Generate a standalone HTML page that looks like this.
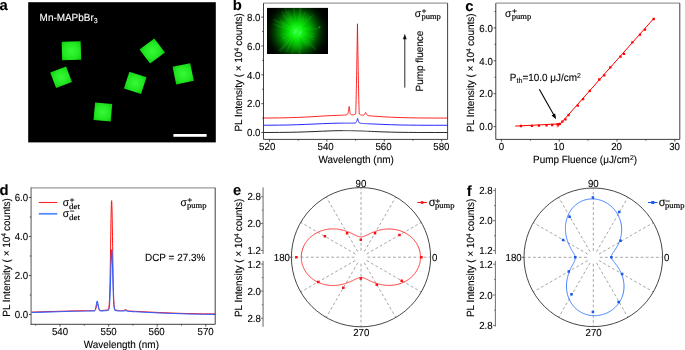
<!DOCTYPE html>
<html lang="en"><head><meta charset="utf-8"><title>Mn-MAPbBr3 lasing figure</title>
<style>html,body{margin:0;padding:0;background:#fff;}svg{display:block;will-change:transform;}text{font-family:"Liberation Sans", Arial, sans-serif;fill:#000;stroke:#000;stroke-width:0.1px;text-rendering:geometricPrecision;}text.sf{font-family:"Liberation Serif", "Times New Roman", serif;font-weight:normal;font-size:8px;stroke:#111;stroke-width:0.2px;}</style></head><body>
<svg width="685" height="350" viewBox="0 0 685 350">
<defs><filter id="bl" x="-20%" y="-20%" width="140%" height="140%"><feGaussianBlur stdDeviation="0.7"/></filter><filter id="bl2" x="-20%" y="-20%" width="140%" height="140%"><feGaussianBlur stdDeviation="0.5"/></filter><radialGradient id="sq" cx="50%" cy="50%" r="70%"><stop offset="0" stop-color="#38f838"/><stop offset="0.6" stop-color="#22e822"/><stop offset="1" stop-color="#10c810"/></radialGradient><radialGradient id="glow" gradientUnits="userSpaceOnUse" cx="296.8" cy="31.6" r="34"><stop offset="0" stop-color="#34ff34"/><stop offset="0.15" stop-color="#16f616"/><stop offset="0.28" stop-color="#00d200"/><stop offset="0.42" stop-color="#00a200"/><stop offset="0.55" stop-color="#006c00"/><stop offset="0.68" stop-color="#003800"/><stop offset="0.8" stop-color="#001400"/><stop offset="0.92" stop-color="#000400"/><stop offset="1" stop-color="#000000"/></radialGradient><clipPath id="cin"><rect x="267" y="7.8" width="61" height="46.2"/></clipPath><clipPath id="cb"><rect x="263.5" y="3.2" width="184" height="136.2"/></clipPath><clipPath id="cd"><rect x="31" y="187.6" width="184.2" height="136.8"/></clipPath></defs>
<rect x="0" y="0" width="685" height="350" fill="#ffffff"/>
<text x="-0.6" y="10.4" font-size="14.8" font-weight="bold" fill="#000">a</text>
<text x="232.8" y="10.3" font-size="14.8" font-weight="bold" fill="#000">b</text>
<text x="465.2" y="10.7" font-size="14.8" font-weight="bold" fill="#000">c</text>
<text x="-0.5" y="195" font-size="14.8" font-weight="bold" fill="#000">d</text>
<text x="233" y="195" font-size="14.8" font-weight="bold" fill="#000">e</text>
<text x="466.8" y="195.7" font-size="14.8" font-weight="bold" fill="#000">f</text>
<g id="panel-a">
<rect x="28.2" y="2.2" width="187.6" height="140.2" fill="#000"/>
<g filter="url(#bl)">
<rect x="61.9" y="41.5" width="19" height="18.6" fill="url(#sq)" transform="rotate(-1.5 71.4 50.8)"/>
<rect x="52.6" y="68.9" width="17" height="16.6" fill="url(#sq)" transform="rotate(-20.8 61.1 77.2)"/>
<rect x="142.9" y="42.2" width="18.6" height="17.6" fill="url(#sq)" transform="rotate(-37 152.2 51)"/>
<rect x="126.2" y="74" width="18" height="17.6" fill="url(#sq)" transform="rotate(18 135.2 82.8)"/>
<rect x="174.2" y="64.8" width="18" height="18" fill="url(#sq)" transform="rotate(-11.6 183.2 73.8)"/>
<rect x="94.3" y="103.3" width="17.2" height="17.6" fill="url(#sq)" transform="rotate(5 102.9 112.1)"/>
</g>
<rect x="173.4" y="134" width="33.2" height="2.8" fill="#fff"/>
<text transform="translate(39.6 20.9) scale(1 1.05)" font-size="9.95" style="fill:#fff;stroke:#fff">Mn-MAPbBr<tspan font-size="7" dy="1.9">3</tspan></text>
</g>
<g id="panel-b">
<g clip-path="url(#cb)" fill="none" stroke-width="0.85" stroke-linejoin="miter" stroke-miterlimit="3">
<path d="M262.32 132.49 L270.94 132.47 L279.55 132.42 L288.15 132.32 L296.76 132.15 L305.38 131.89 L313.99 131.55 L322.6 131.18 L331.2 130.85 L339.81 130.65 L341.97 130.63 L342.11 130.63 L342.83 130.63 L342.97 130.63 L343.69 130.63 L343.83 130.63 L344.55 130.63 L344.69 130.63 L345.41 130.63 L345.56 130.63 L346.27 130.63 L346.42 130.63 L346.44 130.63 L346.59 130.63 L346.62 130.63 L346.76 130.64 L346.79 130.64 L346.93 130.64 L346.96 130.64 L347.1 130.64 L347.13 130.64 L347.28 130.64 L347.31 130.64 L347.45 130.64 L347.48 130.64 L347.62 130.64 L347.65 130.64 L347.79 130.64 L347.82 130.64 L347.97 130.65 L347.99 130.65 L348.14 130.65 L348.17 130.65 L348.31 130.65 L348.34 130.65 L348.43 130.65 L348.48 130.65 L348.51 130.65 L348.65 130.65 L348.68 130.65 L348.83 130.66 L348.86 130.66 L349 130.66 L349.03 130.66 L349.17 130.66 L349.2 130.66 L349.34 130.66 L349.37 130.66 L349.52 130.67 L349.54 130.67 L349.69 130.67 L349.72 130.67 L349.86 130.67 L349.89 130.67 L350.03 130.67 L350.06 130.67 L350.2 130.68 L350.23 130.68 L350.38 130.68 L350.41 130.68 L350.49 130.68 L350.55 130.68 L350.58 130.68 L350.72 130.69 L350.75 130.69 L350.89 130.69 L350.92 130.69 L351.07 130.69 L351.09 130.69 L351.24 130.7 L351.27 130.7 L351.35 130.7 L351.41 130.7 L351.44 130.7 L351.58 130.7 L352.21 130.72 L352.27 130.72 L352.3 130.72 L352.44 130.72 L353.07 130.73 L353.13 130.74 L353.16 130.74 L353.3 130.74 L353.94 130.76 L353.99 130.76 L354.02 130.76 L354.17 130.76 L354.8 130.78 L354.85 130.78 L354.88 130.78 L354.97 130.78 L355.03 130.79 L355.05 130.79 L355.14 130.79 L355.2 130.79 L355.23 130.79 L355.31 130.79 L355.37 130.8 L355.4 130.8 L355.49 130.8 L355.54 130.8 L355.57 130.8 L355.66 130.8 L355.71 130.81 L355.74 130.81 L355.83 130.81 L355.89 130.81 L355.92 130.81 L356 130.81 L356.06 130.82 L356.09 130.82 L356.17 130.82 L356.23 130.82 L356.26 130.82 L356.35 130.82 L356.4 130.83 L356.43 130.83 L356.52 130.83 L356.58 130.83 L356.6 130.83 L356.69 130.83 L356.75 130.84 L356.78 130.84 L356.86 130.84 L356.92 130.84 L356.95 130.84 L357.03 130.85 L357.09 130.85 L357.12 130.85 L357.21 130.85 L357.26 130.85 L357.29 130.85 L357.38 130.86 L357.44 130.86 L357.47 130.86 L357.55 130.86 L357.61 130.86 L357.64 130.87 L357.72 130.87 L357.78 130.87 L357.81 130.87 L357.9 130.87 L357.95 130.88 L357.98 130.88 L358.07 130.88 L358.13 130.88 L358.15 130.88 L358.24 130.89 L358.3 130.89 L358.33 130.89 L358.41 130.89 L358.47 130.89 L358.5 130.89 L358.58 130.9 L358.64 130.9 L358.67 130.9 L358.76 130.9 L358.81 130.91 L358.84 130.91 L358.93 130.91 L358.99 130.91 L359.02 130.91 L359.1 130.92 L359.16 130.92 L359.19 130.92 L359.27 130.92 L359.33 130.92 L359.36 130.92 L359.45 130.93 L359.5 130.93 L359.53 130.93 L359.62 130.93 L359.68 130.94 L359.7 130.94 L359.79 130.94 L359.85 130.94 L359.88 130.94 L359.96 130.95 L360.02 130.95 L360.05 130.95 L360.19 130.96 L360.48 130.97 L360.82 130.98 L360.88 130.98 L360.91 130.98 L361.05 130.99 L361.34 131 L361.68 131.01 L361.74 131.01 L361.77 131.02 L361.91 131.02 L362.2 131.03 L362.55 131.05 L362.6 131.05 L362.63 131.05 L362.77 131.06 L363.06 131.07 L363.23 131.07 L363.41 131.08 L363.46 131.08 L363.49 131.08 L363.58 131.09 L363.64 131.09 L363.75 131.1 L363.92 131.1 L364.1 131.11 L364.27 131.12 L364.44 131.12 L364.61 131.13 L364.78 131.14 L364.96 131.15 L365.13 131.15 L365.3 131.16 L365.47 131.17 L365.64 131.18 L365.82 131.18 L365.99 131.19 L366.16 131.2 L366.33 131.2 L366.51 131.21 L366.68 131.22 L366.85 131.23 L367.02 131.23 L367.19 131.24 L367.37 131.25 L367.54 131.26 L367.71 131.26 L367.88 131.27 L368.06 131.28 L368.23 131.29 L369.09 131.33 L369.95 131.36 L370.81 131.4 L371.67 131.44 L374.25 131.55 L382.87 131.89 L391.48 132.15 L400.09 132.32 L408.69 132.42 L417.31 132.47 L425.91 132.49 L434.52 132.5 L443.13 132.5 L448.88 132.5" stroke="#000" stroke-width="0.85"/>
<path d="M262.32 125.25 L270.94 125.21 L279.55 125.12 L288.15 124.97 L296.76 124.74 L305.38 124.42 L313.99 124.04 L322.6 123.66 L331.2 123.33 L339.81 123.15 L341.97 123.13 L342.11 123.13 L342.83 123.13 L342.97 123.13 L343.69 123.12 L343.83 123.12 L344.55 123.12 L344.69 123.12 L345.41 123.12 L345.56 123.12 L346.27 123.13 L346.42 123.13 L346.44 123.13 L346.59 123.13 L346.62 123.13 L346.76 123.13 L346.79 123.13 L346.93 123.13 L346.96 123.13 L347.1 123.13 L347.13 123.13 L347.28 123.13 L347.31 123.13 L347.45 123.13 L347.48 123.13 L347.62 123.13 L347.65 123.13 L347.79 123.13 L347.82 123.13 L347.97 123.14 L347.99 123.14 L348.14 123.14 L348.17 123.14 L348.31 123.14 L348.34 123.14 L348.43 123.14 L348.48 123.14 L348.51 123.14 L348.65 123.14 L348.68 123.14 L348.83 123.14 L348.86 123.14 L349 123.14 L349.03 123.14 L349.17 123.15 L349.2 123.15 L349.34 123.15 L349.37 123.15 L349.52 123.15 L349.54 123.15 L349.69 123.15 L349.72 123.15 L349.86 123.15 L349.89 123.15 L350.03 123.15 L350.06 123.15 L350.2 123.15 L350.23 123.15 L350.38 123.16 L350.41 123.16 L350.49 123.16 L350.55 123.16 L350.58 123.16 L350.72 123.16 L350.75 123.16 L350.89 123.16 L350.92 123.16 L351.07 123.16 L351.09 123.16 L351.24 123.16 L351.27 123.16 L351.35 123.16 L351.41 123.16 L351.44 123.16 L351.58 123.16 L352.21 123.17 L352.27 123.17 L352.3 123.17 L352.44 123.16 L353.07 123.16 L353.13 123.16 L353.16 123.16 L353.3 123.15 L353.94 123.13 L353.99 123.13 L354.02 123.13 L354.17 123.12 L354.8 123.04 L354.85 123.03 L354.88 123.03 L354.97 123.01 L355.03 123 L355.05 122.99 L355.14 122.97 L355.2 122.96 L355.23 122.95 L355.31 122.92 L355.37 122.9 L355.4 122.89 L355.49 122.86 L355.54 122.83 L355.57 122.82 L355.66 122.78 L355.71 122.75 L355.74 122.73 L355.83 122.67 L355.89 122.63 L355.92 122.61 L356 122.54 L356.06 122.48 L356.09 122.45 L356.17 122.36 L356.23 122.28 L356.26 122.24 L356.35 122.12 L356.4 122.02 L356.43 121.97 L356.52 121.8 L356.58 121.68 L356.6 121.61 L356.69 121.39 L356.75 121.23 L356.78 121.14 L356.86 120.87 L356.92 120.67 L356.95 120.56 L357.03 120.24 L357.09 120.01 L357.12 119.89 L357.21 119.55 L357.26 119.33 L357.29 119.23 L357.38 118.95 L357.44 118.8 L357.47 118.74 L357.55 118.62 L357.61 118.59 L357.64 118.6 L357.72 118.69 L357.78 118.81 L357.81 118.88 L357.9 119.15 L357.95 119.35 L357.98 119.46 L358.07 119.81 L358.13 120.04 L358.15 120.16 L358.24 120.5 L358.3 120.71 L358.33 120.81 L358.41 121.11 L358.47 121.29 L358.5 121.37 L358.58 121.6 L358.64 121.74 L358.67 121.81 L358.76 121.99 L358.81 122.1 L358.84 122.15 L358.93 122.29 L358.99 122.37 L359.02 122.41 L359.1 122.52 L359.16 122.58 L359.19 122.61 L359.27 122.69 L359.33 122.74 L359.36 122.76 L359.45 122.83 L359.5 122.87 L359.53 122.88 L359.62 122.93 L359.68 122.97 L359.7 122.98 L359.79 123.02 L359.85 123.05 L359.88 123.06 L359.96 123.09 L360.02 123.11 L360.05 123.12 L360.19 123.16 L360.48 123.23 L360.82 123.3 L360.88 123.31 L360.91 123.31 L361.05 123.33 L361.34 123.37 L361.68 123.4 L361.74 123.41 L361.77 123.41 L361.91 123.42 L362.2 123.45 L362.55 123.47 L362.6 123.48 L362.63 123.48 L362.77 123.49 L363.06 123.51 L363.23 123.52 L363.41 123.53 L363.46 123.53 L363.49 123.53 L363.58 123.54 L363.64 123.54 L363.75 123.55 L363.92 123.55 L364.1 123.56 L364.27 123.57 L364.44 123.58 L364.61 123.59 L364.78 123.6 L364.96 123.61 L365.13 123.62 L365.3 123.62 L365.47 123.63 L365.64 123.64 L365.82 123.65 L365.99 123.66 L366.16 123.67 L366.33 123.67 L366.51 123.68 L366.68 123.69 L366.85 123.7 L367.02 123.71 L367.19 123.71 L367.37 123.72 L367.54 123.73 L367.71 123.74 L367.88 123.75 L368.06 123.75 L368.23 123.76 L369.09 123.8 L369.95 123.84 L370.81 123.88 L371.67 123.92 L374.25 124.04 L382.87 124.42 L391.48 124.74 L400.09 124.97 L408.69 125.12 L417.31 125.21 L425.91 125.25 L434.52 125.27 L443.13 125.28 L448.88 125.29" stroke="#0000ff"/>
<path d="M262.32 118.04 L270.94 117.99 L279.55 117.9 L288.15 117.73 L296.76 117.45 L305.38 117.07 L313.99 116.59 L322.6 116.06 L331.2 115.59 L339.81 115.25 L341.97 115.19 L342.11 115.18 L342.83 115.16 L342.97 115.16 L343.69 115.13 L343.83 115.13 L344.55 115.09 L344.69 115.09 L345.41 115.04 L345.56 115.02 L346.27 114.92 L346.42 114.89 L346.44 114.88 L346.59 114.84 L346.62 114.84 L346.76 114.79 L346.79 114.78 L346.93 114.72 L346.96 114.71 L347.1 114.63 L347.13 114.62 L347.28 114.52 L347.31 114.5 L347.45 114.37 L347.48 114.34 L347.62 114.18 L347.65 114.14 L347.79 113.91 L347.82 113.85 L347.97 113.53 L347.99 113.45 L348.14 113 L348.17 112.9 L348.31 112.25 L348.34 112.1 L348.43 111.6 L348.48 111.21 L348.51 111 L348.65 109.83 L348.68 109.57 L348.83 108.23 L348.86 107.97 L349 106.88 L349.03 106.73 L349.17 106.46 L349.2 106.52 L349.34 107.25 L349.37 107.47 L349.52 108.75 L349.54 109.02 L349.69 110.3 L349.72 110.54 L349.86 111.57 L349.89 111.75 L350.03 112.5 L350.06 112.63 L350.2 113.16 L350.23 113.25 L350.38 113.62 L350.41 113.69 L350.49 113.86 L350.55 113.95 L350.58 114 L350.72 114.19 L350.75 114.22 L350.89 114.36 L350.92 114.38 L351.07 114.49 L351.09 114.5 L351.24 114.58 L351.27 114.59 L351.35 114.63 L351.41 114.65 L351.44 114.66 L351.58 114.7 L352.21 114.81 L352.27 114.81 L352.3 114.81 L352.44 114.82 L353.07 114.81 L353.13 114.8 L353.16 114.8 L353.3 114.79 L353.94 114.7 L353.99 114.69 L354.02 114.68 L354.17 114.65 L354.8 114.45 L354.85 114.42 L354.88 114.41 L354.97 114.37 L355.03 114.34 L355.05 114.32 L355.14 114.27 L355.2 114.24 L355.23 114.22 L355.31 114.17 L355.37 114.13 L355.4 114.11 L355.49 114.04 L355.54 114 L355.57 113.97 L355.66 113.9 L355.71 113.43 L355.74 112.8 L355.83 110.39 L355.89 108.5 L355.92 107.49 L356 104.25 L356.06 101.92 L356.09 100.72 L356.17 96.96 L356.23 94.33 L356.26 92.99 L356.35 88.84 L356.4 85.98 L356.43 84.52 L356.52 80.05 L356.58 76.99 L356.6 75.44 L356.69 70.71 L356.75 67.48 L356.78 65.85 L356.86 60.89 L356.92 57.52 L356.95 55.82 L357.03 50.67 L357.09 47.18 L357.12 45.43 L357.21 40.12 L357.26 36.54 L357.29 34.73 L357.38 29.29 L357.44 25.63 L357.47 23.79 L357.55 29.3 L357.61 32.94 L357.64 34.75 L357.72 40.13 L357.78 43.69 L357.81 45.45 L357.9 50.7 L357.95 54.15 L357.98 55.86 L358.07 60.93 L358.13 64.25 L358.15 65.9 L358.24 70.76 L358.3 73.94 L358.33 75.5 L358.41 80.12 L358.47 83.12 L358.5 84.59 L358.58 88.92 L358.64 91.71 L358.67 93.07 L358.76 97.05 L358.81 99.58 L358.84 100.81 L358.93 104.35 L358.99 106.55 L359.02 107.6 L359.1 110.51 L359.16 112.19 L359.19 112.92 L359.27 114.02 L359.33 114.08 L359.36 114.1 L359.45 114.18 L359.5 114.23 L359.53 114.25 L359.62 114.32 L359.68 114.36 L359.7 114.38 L359.79 114.44 L359.85 114.47 L359.88 114.49 L359.96 114.54 L360.02 114.57 L360.05 114.59 L360.19 114.66 L360.48 114.78 L360.82 114.9 L360.88 114.92 L360.91 114.92 L361.05 114.96 L361.34 115.03 L361.68 115.09 L361.74 115.1 L361.77 115.1 L361.91 115.12 L362.2 115.15 L362.55 115.17 L362.6 115.17 L362.63 115.17 L362.77 115.17 L363.06 115.16 L363.23 115.14 L363.41 115.12 L363.46 115.11 L363.49 115.1 L363.58 115.08 L363.64 115.06 L363.75 115.02 L363.92 114.95 L364.1 114.85 L364.27 114.72 L364.44 114.54 L364.61 114.31 L364.78 114.01 L364.96 113.66 L365.13 113.25 L365.3 112.86 L365.47 112.57 L365.64 112.46 L365.82 112.59 L365.99 112.92 L366.16 113.34 L366.33 113.77 L366.51 114.15 L366.68 114.47 L366.85 114.73 L367.02 114.94 L367.19 115.1 L367.37 115.23 L367.54 115.33 L367.71 115.42 L367.88 115.49 L368.06 115.55 L368.23 115.6 L369.09 115.76 L369.95 115.87 L370.81 115.95 L371.67 116.02 L374.25 116.2 L382.87 116.75 L391.48 117.21 L400.09 117.55 L408.69 117.79 L417.31 117.93 L425.91 118.01 L434.52 118.05 L443.13 118.07 L448.88 118.07" stroke="#ff0000"/>
</g>
<g clip-path="url(#cin)">
<rect x="267" y="7.8" width="61" height="46.2" fill="#000"/>
<rect x="267" y="7.8" width="61" height="46.2" fill="url(#glow)"/>
<path d="M294.61 35.89 L286.59 51.9 M303.28 34.67 L314.21 40.02 M303.38 34.01 L311.24 37.01 M292.76 33.29 L282.09 38.01 M288.83 35.59 L282.13 39.03 M298.1 39.16 L301.21 57.5 M291.15 28.53 L273.16 19.06 M305.56 34.14 L314.49 36.83 M299.7 35.21 L308.33 46.22 M298.85 26.85 L305.67 11.39 M292.79 26.72 L282.94 14.97 M300.82 33.17 L312.93 38.22 M294.02 25.55 L288.85 14.5 M291.03 28.06 L280.83 21.98 M299.06 23.62 L301.73 14.26 M290.42 28.28 L274.04 20 M296.06 25.82 L293.35 4.96 M301.6 35.9 L314.56 47.77 M300.81 37.16 L305.74 44.13 M292.58 24.02 L286.05 12.45 M300.97 27.35 L313.36 15.04 M290.6 27.32 L279.82 20.06 M301.98 23.34 L307.88 14.03 M294.56 27.76 L284.77 11.41 M290.8 23.55 L281.83 11.65 M295.44 37.67 L291.83 53.98 M303.5 32.46 L313.65 33.9 M300.03 34.42 L314.75 47.75 M300.57 35.48 L310.34 45.8 M299.9 28.26 L310.89 16.76 M287.94 28.66 L273.16 23.91 M300.52 27.22 L309.92 16.43 M290.92 38.72 L280.07 52.04 M299.75 35.61 L307.17 45.95 M297.52 38.37 L299.11 53.45 M296.48 35.51 L295.2 51.46 M291.76 36.92 L278.79 50.86 M294.21 24.9 L288.61 10.64 M294.87 27.63 L285.26 8.43 M298.53 22.42 L301.4 7.36 M291.81 35.5 L284.13 41.67 M293.89 28.23 L286.29 19.69 M298.07 36.31 L301.69 49.94 M300.59 32.8 L312.71 36.95 M301.77 35.18 L309.1 40.61 M302.21 26.04 L308.62 19.58 M296.71 37.58 L296.53 50.87 M303.32 37.84 L316.09 50.27 M290.05 32.96 L281.13 34.9 M301.65 35.13 L311.36 42.39 M299.16 27.13 L304.06 18.06 M303.63 29.33 L312.77 26.42 M292.79 30.38 L276.24 25.78 M305.9 30.26 L319.94 28.35 M296.37 37.69 L295.61 48.46 M297.79 24.37 L300.15 7.38 " stroke="#40ff40" stroke-opacity="0.13" stroke-width="1.5" fill="none" filter="url(#bl)"/>
<path d="M296.6 28.6 l-2.6 5 M301.4 30.6 l-2.4 4.8" stroke="#5cffc0" stroke-width="0.8" stroke-opacity="0.9" fill="none"/>
<circle cx="319.5" cy="27" r="1.1" fill="#2fbf2f" fill-opacity="0.5"/>
</g>
<path d="M263.5 3.2 H447.6" stroke="#9a9a9a" stroke-width="1.2" fill="none"/><path d="M447.6 3.2 V139.4" stroke="#2a2a2a" stroke-width="0.9" fill="none"/><path d="M263.5 3.2 V139.4 H447.6" stroke="#2a2a2a" stroke-width="0.9" fill="none"/><path d="M269.5 139.4 v2.2 M326.9 139.4 v2.2 M384.3 139.4 v2.2 M441.7 139.4 v2.2 M298.2 139.4 v1.3 M355.6 139.4 v1.3 M413 139.4 v1.3 M263.5 132.5 h-2.2 M263.5 103.66 h-2.2 M263.5 74.82 h-2.2 M263.5 45.98 h-2.2 M263.5 17.14 h-2.2 M263.5 118.08 h-1.3 M263.5 89.24 h-1.3 M263.5 60.4 h-1.3 M263.5 31.56 h-1.3 " stroke="#2a2a2a" stroke-width="0.8" fill="none"/><text transform="translate(267.2 150.3) scale(1 1.05)" text-anchor="middle" font-size="9.7">520</text><text transform="translate(325.6 150.3) scale(1 1.05)" text-anchor="middle" font-size="9.7">540</text><text transform="translate(383.5 150.3) scale(1 1.05)" text-anchor="middle" font-size="9.7">560</text><text transform="translate(441.4 150.3) scale(1 1.05)" text-anchor="middle" font-size="9.7">580</text><text transform="translate(260.5 136.2) scale(1 1.05)" text-anchor="end" font-size="9.7">0.0</text><text transform="translate(260.5 107.36) scale(1 1.05)" text-anchor="end" font-size="9.7">2.0</text><text transform="translate(260.5 78.52) scale(1 1.05)" text-anchor="end" font-size="9.7">4.0</text><text transform="translate(260.5 49.68) scale(1 1.05)" text-anchor="end" font-size="9.7">6.0</text><text transform="translate(260.5 20.84) scale(1 1.05)" text-anchor="end" font-size="9.7">8.0</text>
<text transform="translate(356.1 163.4) scale(1 1.05)" text-anchor="middle" font-size="9.95">Wavelength (nm)</text>
<text transform="translate(242.1 72.4) rotate(-90) scale(1 1.05)" text-anchor="middle" font-size="9.95">PL Intensity ( × 10<tspan font-size="6.6" dy="-3.1">4</tspan><tspan dy="3.1" dx="-0.6"> counts)</tspan></text>
<text transform="translate(414.8 16.7) scale(0.98 1.04)" font-size="10.5">σ</text><text x="421.6" y="13.7" font-size="8.6" stroke="#000" stroke-width="0.2">+</text><text x="421.4" y="18.8" class="sf" textLength="19.5" lengthAdjust="spacingAndGlyphs">pump</text>
<path d="M404.8 87.6 V37" stroke="#111" stroke-width="0.9" fill="none"/>
<path d="M404.8 33.8 l-1.9 5.4 h3.8 z" fill="#111"/>
<text transform="translate(423.1 61.1) rotate(-90) scale(1 1.05)" text-anchor="middle" font-size="9.95">Pump fluence</text>
</g>
<g id="panel-c">
<path d="M495.8 3.2 H679.8" stroke="#9a9a9a" stroke-width="1.2" fill="none"/><path d="M679.8 3.2 V139.4" stroke="#2a2a2a" stroke-width="0.9" fill="none"/><path d="M495.8 3.2 V139.4 H679.8" stroke="#2a2a2a" stroke-width="0.9" fill="none"/><path d="M501.4 139.4 v2.2 M559.2 139.4 v2.2 M617 139.4 v2.2 M674.8 139.4 v2.2 M530.3 139.4 v1.3 M588.1 139.4 v1.3 M645.9 139.4 v1.3 M495.8 126.6 h-2.2 M495.8 93.7 h-2.2 M495.8 60.8 h-2.2 M495.8 27.9 h-2.2 M495.8 110.15 h-1.3 M495.8 77.25 h-1.3 M495.8 44.35 h-1.3 M495.8 11.45 h-1.3 " stroke="#2a2a2a" stroke-width="0.8" fill="none"/><text transform="translate(501.4 150.3) scale(1 1.05)" text-anchor="middle" font-size="9.7">0</text><text transform="translate(558.9 150.3) scale(1 1.05)" text-anchor="middle" font-size="9.7">10</text><text transform="translate(616.6 150.3) scale(1 1.05)" text-anchor="middle" font-size="9.7">20</text><text transform="translate(674.6 150.3) scale(1 1.05)" text-anchor="middle" font-size="9.7">30</text><text transform="translate(492.8 130.3) scale(1 1.05)" text-anchor="end" font-size="9.7">0.0</text><text transform="translate(492.8 97.4) scale(1 1.05)" text-anchor="end" font-size="9.7">2.0</text><text transform="translate(492.8 64.5) scale(1 1.05)" text-anchor="end" font-size="9.7">4.0</text><text transform="translate(492.8 31.6) scale(1 1.05)" text-anchor="end" font-size="9.7">6.0</text>
<path d="M515.2 126.1 L561 123.8 M557.2 127.4 L654 18.2" stroke="#ff0000" stroke-width="1" fill="none"/>
<path d="M519.85 124.85 h2.3 v2.3 h-2.3 z M530.75 124.75 h2.3 v2.3 h-2.3 z M537.75 124.55 h2.3 v2.3 h-2.3 z M545.35 124.25 h2.3 v2.3 h-2.3 z M551.05 123.85 h2.3 v2.3 h-2.3 z M556.45 123.35 h2.3 v2.3 h-2.3 z M558.65 122.75 h2.3 v2.3 h-2.3 z M561.25 120.55 h2.3 v2.3 h-2.3 z M564.25 118.25 h2.3 v2.3 h-2.3 z M567.45 113.85 h2.3 v2.3 h-2.3 z M576.65 104.45 h2.3 v2.3 h-2.3 z M581.95 97.95 h2.3 v2.3 h-2.3 z M588.65 89.65 h2.3 v2.3 h-2.3 z M598.15 78.35 h2.3 v2.3 h-2.3 z M603.15 74.25 h2.3 v2.3 h-2.3 z M609.15 66.25 h2.3 v2.3 h-2.3 z M619.35 55.55 h2.3 v2.3 h-2.3 z M622.85 52.75 h2.3 v2.3 h-2.3 z M631.25 41.15 h2.3 v2.3 h-2.3 z M638.85 33.55 h2.3 v2.3 h-2.3 z M643.85 28.55 h2.3 v2.3 h-2.3 z M652.55 17.85 h2.3 v2.3 h-2.3 z " fill="#ff0000"/>
<path d="M539.3 89.3 L555 117" stroke="#000" stroke-width="1.1" fill="none"/>
<path d="M556.1 119.2 l-4.5 -3.7 l3.5 -2 z" fill="#000"/>
<text transform="translate(509.8 81.3) scale(1 1.05)" font-size="9.95">P<tspan font-size="7.2" dy="2">th</tspan><tspan dy="-2">=10.0 μJ/cm</tspan><tspan font-size="6.8" dy="-3.1">2</tspan></text>
<text transform="translate(505.1 16.7) scale(0.98 1.04)" font-size="10.5">σ</text><text x="511.9" y="13.7" font-size="8.6" stroke="#000" stroke-width="0.2">+</text><text x="511.7" y="18.8" class="sf" textLength="19.5" lengthAdjust="spacingAndGlyphs">pump</text>
<text transform="translate(585 163.3) scale(1 1.05)" text-anchor="middle" font-size="9.95">Pump Fluence (μJ/cm<tspan font-size="6.8" dy="-3.1">2</tspan><tspan dy="3.1">)</tspan></text>
<text transform="translate(474.2 72.7) rotate(-90) scale(1 1.05)" text-anchor="middle" font-size="9.95">PL Intensity ( × 10<tspan font-size="6.6" dy="-3.1">4</tspan><tspan dy="3.1" dx="-0.6"> counts)</tspan></text>
</g>
<g id="panel-d">
<g clip-path="url(#cd)" fill="none" stroke-linejoin="miter" stroke-miterlimit="3">
<path d="M28.41 312.21 L42.99 311.75 L57.57 311.32 L72.15 310.95 L85.52 310.7 L85.76 310.69 L86.73 310.68 L86.97 310.68 L87.22 310.67 L88.43 310.66 L88.67 310.65 L89.89 310.64 L90.13 310.63 L91.35 310.62 L91.59 310.61 L92.81 310.6 L93.05 310.59 L93.1 310.59 L93.34 310.59 L93.39 310.59 L93.63 310.58 L93.68 310.58 L93.92 310.57 L93.97 310.57 L94.21 310.55 L94.26 310.54 L94.51 310.5 L94.55 310.49 L94.8 310.4 L94.85 310.37 L95.09 310.19 L95.14 310.15 L95.38 309.83 L95.43 309.75 L95.67 309.25 L95.72 309.12 L95.96 308.4 L96.01 308.24 L96.26 307.32 L96.3 307.13 L96.55 306.12 L96.6 305.93 L96.84 305 L96.89 304.84 L97.13 304.2 L97.18 304.11 L97.42 303.9 L97.47 303.91 L97.71 304.19 L97.76 304.29 L98.01 304.99 L98.05 305.15 L98.3 306.1 L98.35 306.29 L98.59 307.29 L98.64 307.48 L98.88 308.35 L98.93 308.51 L99.17 309.19 L99.22 309.3 L99.46 309.76 L99.51 309.84 L99.75 310.12 L99.8 310.16 L99.95 310.26 L100.05 310.31 L100.09 310.33 L100.34 310.4 L100.39 310.41 L100.63 310.44 L100.68 310.44 L100.92 310.45 L100.97 310.45 L101.21 310.45 L101.26 310.45 L101.31 310.45 L101.41 310.45 L101.5 310.44 L101.55 310.44 L101.8 310.43 L102.87 310.39 L102.96 310.39 L103.01 310.39 L103.25 310.37 L104.32 310.31 L104.42 310.3 L104.47 310.3 L104.71 310.28 L105.78 310.17 L105.88 310.15 L105.93 310.15 L106.17 310.11 L107.24 309.89 L107.34 309.86 L107.39 309.85 L107.53 309.8 L107.63 309.76 L107.68 309.74 L107.82 309.66 L107.92 309.6 L107.97 309.56 L108.11 309.43 L108.21 309.32 L108.26 309.25 L108.41 309 L108.5 308.77 L108.55 308.64 L108.7 308.12 L108.79 307.65 L108.84 307.38 L108.99 306.33 L109.09 305.42 L109.13 304.89 L109.28 302.93 L109.38 301.27 L109.43 300.32 L109.57 296.93 L109.67 294.17 L109.72 292.63 L109.86 287.34 L109.96 283.22 L110.01 280.98 L110.16 273.57 L110.25 268.08 L110.3 265.19 L110.45 256.03 L110.54 249.62 L110.59 246.37 L110.74 236.57 L110.84 230.19 L110.88 227.09 L111.03 218.42 L111.13 213.33 L111.18 211.04 L111.32 205.4 L111.42 202.79 L111.47 201.87 L111.61 200.66 L111.71 201.2 L111.76 201.87 L111.9 205.41 L112 208.96 L112.05 211.05 L112.2 218.43 L112.29 224.1 L112.34 227.11 L112.49 236.59 L112.59 243.12 L112.63 246.39 L112.78 256.06 L112.88 262.24 L112.93 265.22 L113.07 273.6 L113.17 278.66 L113.22 281.02 L113.36 287.38 L113.46 291.03 L113.51 292.68 L113.65 296.98 L113.75 299.33 L113.8 300.37 L113.95 302.98 L114.04 304.36 L114.09 304.95 L114.24 306.4 L114.33 307.13 L114.38 307.44 L114.53 308.19 L114.63 308.56 L114.68 308.71 L114.82 309.08 L114.92 309.26 L114.97 309.33 L115.11 309.52 L115.21 309.61 L115.26 309.65 L115.4 309.75 L115.5 309.8 L115.55 309.83 L115.7 309.89 L115.79 309.93 L115.84 309.95 L115.89 309.96 L115.99 309.99 L116.08 310.02 L116.13 310.03 L116.38 310.1 L116.86 310.2 L117.45 310.3 L117.54 310.31 L117.59 310.32 L117.83 310.35 L118.32 310.4 L118.9 310.46 L119 310.47 L119.05 310.47 L119.29 310.49 L119.78 310.52 L120.36 310.54 L120.46 310.55 L120.51 310.55 L120.75 310.56 L121.24 310.57 L121.53 310.57 L121.82 310.56 L121.92 310.56 L121.97 310.56 L122.11 310.55 L122.21 310.55 L122.4 310.54 L122.69 310.51 L122.99 310.48 L123.28 310.43 L123.57 310.37 L123.86 310.29 L124.15 310.18 L124.44 310.04 L124.74 309.89 L125.03 309.73 L125.32 309.61 L125.61 309.57 L125.9 309.63 L126.19 309.78 L126.48 309.97 L126.78 310.15 L127.07 310.32 L127.36 310.45 L127.65 310.56 L127.94 310.65 L128.23 310.73 L128.53 310.79 L128.82 310.84 L129.11 310.89 L129.4 310.93 L129.69 310.96 L129.98 310.99 L130.47 311.04 L131.44 311.12 L132.9 311.21 L134.36 311.29 L135.82 311.37 L145.05 311.84 L159.63 312.55 L174.21 313.15 L188.79 313.58 L203.37 313.85 L217.95 313.99 L218.44 314" stroke="#ff1010" stroke-width="1.0"/>
<path d="M28.41 312.6 L42.99 312.14 L57.57 311.71 L72.15 311.34 L85.52 311.1 L85.76 311.09 L86.73 311.08 L86.97 311.08 L87.22 311.07 L88.43 311.06 L88.67 311.05 L89.89 311.04 L90.13 311.04 L91.35 311.02 L91.59 311.02 L92.81 311 L93.05 311 L93.1 311 L93.34 310.99 L93.39 310.99 L93.63 310.98 L93.68 310.98 L93.92 310.96 L93.97 310.95 L94.21 310.9 L94.26 310.88 L94.51 310.76 L94.55 310.73 L94.8 310.5 L94.85 310.43 L95.09 310.01 L95.14 309.9 L95.38 309.22 L95.43 309.05 L95.67 308.04 L95.72 307.81 L95.96 306.51 L96.01 306.22 L96.26 304.76 L96.3 304.46 L96.55 303.07 L96.6 302.82 L96.84 301.79 L96.89 301.64 L97.13 301.22 L97.18 301.21 L97.42 301.5 L97.47 301.63 L97.71 302.57 L97.76 302.81 L98.01 304.15 L98.05 304.44 L98.3 305.91 L98.35 306.2 L98.59 307.53 L98.64 307.77 L98.88 308.83 L98.93 309.01 L99.17 309.74 L99.22 309.86 L99.46 310.31 L99.51 310.38 L99.75 310.63 L99.8 310.67 L99.95 310.75 L100.05 310.79 L100.09 310.81 L100.34 310.86 L100.39 310.87 L100.63 310.89 L100.68 310.89 L100.92 310.9 L100.97 310.9 L101.21 310.9 L101.26 310.9 L101.31 310.9 L101.41 310.89 L101.5 310.89 L101.55 310.89 L101.8 310.89 L102.87 310.86 L102.96 310.86 L103.01 310.86 L103.25 310.85 L104.32 310.81 L104.42 310.81 L104.47 310.8 L104.71 310.79 L105.78 310.72 L105.88 310.72 L105.93 310.71 L106.17 310.69 L107.24 310.56 L107.34 310.54 L107.39 310.54 L107.53 310.51 L107.63 310.49 L107.68 310.47 L107.82 310.43 L107.92 310.4 L107.97 310.39 L108.11 310.32 L108.21 310.27 L108.26 310.24 L108.41 310.12 L108.5 310.02 L108.55 309.96 L108.7 309.73 L108.79 309.52 L108.84 309.39 L108.99 308.93 L109.09 308.51 L109.13 308.27 L109.28 307.38 L109.38 306.61 L109.43 306.17 L109.57 304.58 L109.67 303.27 L109.72 302.53 L109.86 299.96 L109.96 297.93 L110.01 296.82 L110.16 293.09 L110.25 290.28 L110.3 288.79 L110.45 283.98 L110.54 280.54 L110.59 278.78 L110.74 273.36 L110.84 269.74 L110.88 267.95 L111.03 262.81 L111.13 259.66 L111.18 258.21 L111.32 254.41 L111.42 252.44 L111.47 251.65 L111.61 250.11 L111.71 249.81 L111.76 249.88 L111.9 251 L112 252.45 L112.05 253.37 L112.2 256.85 L112.29 259.68 L112.34 261.22 L112.49 266.22 L112.59 269.76 L112.63 271.57 L112.78 277.01 L112.88 280.57 L112.93 282.31 L113.07 287.27 L113.17 290.32 L113.22 291.76 L113.36 295.69 L113.46 297.98 L113.51 299.03 L113.65 301.79 L113.75 303.32 L113.8 304 L113.95 305.74 L114.04 306.67 L114.09 307.07 L114.24 308.07 L114.33 308.58 L114.38 308.8 L114.53 309.33 L114.63 309.59 L114.68 309.7 L114.82 309.97 L114.92 310.1 L114.97 310.16 L115.11 310.29 L115.21 310.36 L115.26 310.39 L115.4 310.46 L115.5 310.5 L115.55 310.52 L115.7 310.56 L115.79 310.59 L115.84 310.6 L115.89 310.61 L115.99 310.64 L116.08 310.66 L116.13 310.67 L116.38 310.71 L116.86 310.78 L117.45 310.85 L117.54 310.86 L117.59 310.87 L117.83 310.89 L118.32 310.93 L118.9 310.97 L119 310.98 L119.05 310.98 L119.29 311 L119.78 311.02 L120.36 311.05 L120.46 311.05 L120.51 311.05 L120.75 311.06 L121.24 311.07 L121.53 311.08 L121.82 311.08 L121.92 311.08 L121.97 311.08 L122.11 311.08 L122.21 311.08 L122.4 311.07 L122.69 311.07 L122.99 311.05 L123.28 311.03 L123.57 311 L123.86 310.95 L124.15 310.9 L124.44 310.82 L124.74 310.74 L125.03 310.65 L125.32 310.59 L125.61 310.57 L125.9 310.61 L126.19 310.7 L126.48 310.81 L126.78 310.92 L127.07 311.02 L127.36 311.11 L127.65 311.17 L127.94 311.23 L128.23 311.28 L128.53 311.32 L128.82 311.35 L129.11 311.38 L129.4 311.41 L129.69 311.44 L129.98 311.46 L130.47 311.49 L131.44 311.56 L132.9 311.64 L134.36 311.71 L135.82 311.78 L145.05 312.24 L159.63 312.94 L174.21 313.54 L188.79 313.97 L203.37 314.24 L217.95 314.38 L218.44 314.39" stroke="#3060ff" stroke-width="1.05"/>
</g>
<path d="M31.1 187.8 H215.2" stroke="#9a9a9a" stroke-width="1.2" fill="none"/><path d="M215.2 187.8 V324.3" stroke="#2a2a2a" stroke-width="0.9" fill="none"/><path d="M31.1 187.3 V324.3" stroke="#858585" stroke-width="1.4" fill="none"/><path d="M30.5 324.3 H215.2" stroke="#2a2a2a" stroke-width="0.9" fill="none"/><path d="M60 324.3 v2.2 M108.6 324.3 v2.2 M157.2 324.3 v2.2 M205.8 324.3 v2.2 M35.7 324.3 v1.3 M84.3 324.3 v1.3 M132.9 324.3 v1.3 M181.5 324.3 v1.3 M31.1 314.5 h-2.2 M31.1 275.5 h-2.2 M31.1 236.5 h-2.2 M31.1 197.5 h-2.2 M31.1 295 h-1.3 M31.1 256 h-1.3 M31.1 217 h-1.3 " stroke="#2a2a2a" stroke-width="0.8" fill="none"/><text transform="translate(60 335.2) scale(1 1.05)" text-anchor="middle" font-size="9.7">540</text><text transform="translate(108.6 335.2) scale(1 1.05)" text-anchor="middle" font-size="9.7">550</text><text transform="translate(156.6 335.2) scale(1 1.05)" text-anchor="middle" font-size="9.7">560</text><text transform="translate(205.6 335.2) scale(1 1.05)" text-anchor="middle" font-size="9.7">570</text><text transform="translate(28.1 318.2) scale(1 1.05)" text-anchor="end" font-size="9.7">0.0</text><text transform="translate(28.1 279.2) scale(1 1.05)" text-anchor="end" font-size="9.7">2.0</text><text transform="translate(28.1 240.2) scale(1 1.05)" text-anchor="end" font-size="9.7">4.0</text><text transform="translate(28.1 201.2) scale(1 1.05)" text-anchor="end" font-size="9.7">6.0</text>
<path d="M38.8 202.5 H57.3" stroke="#ff2020" stroke-width="1.1" fill="none"/>
<path d="M38.8 213.8 H57.3" stroke="#4f86ff" stroke-width="1.7" fill="none"/>
<text transform="translate(62.8 206) scale(0.98 1.04)" font-size="10.5">σ</text><text x="69.6" y="203" font-size="8.6" stroke="#000" stroke-width="0.2">+</text><text x="69.1" y="208.6" class="sf" textLength="11" lengthAdjust="spacingAndGlyphs">det</text>
<text transform="translate(62.8 217.4) scale(0.98 1.04)" font-size="10.5">σ</text><text x="69.6" y="214.4" font-size="8.6" stroke="#000" stroke-width="0.2">−</text><text x="69.1" y="220" class="sf" textLength="11" lengthAdjust="spacingAndGlyphs">det</text>
<text transform="translate(180.4 205.6) scale(0.98 1.04)" font-size="10.5">σ</text><text x="187.2" y="202.6" font-size="8.6" stroke="#000" stroke-width="0.2">+</text><text x="187" y="207.7" class="sf" textLength="19.5" lengthAdjust="spacingAndGlyphs">pump</text>
<text transform="translate(145 260.8) scale(1 1.05)" font-size="9.95">DCP = 27.3%</text>
<text transform="translate(121.3 347.5) scale(1 1.05)" text-anchor="middle" font-size="9.95">Wavelength (nm)</text>
<text transform="translate(9.6 257.5) rotate(-90) scale(1 1.05)" text-anchor="middle" font-size="9.95">PL Intensity ( × 10<tspan font-size="6.6" dy="-3.1">4</tspan><tspan dy="3.1" dx="-0.6"> counts)</tspan></text>
</g>
<g id="panel-e"><path d="M367.5 257.2 L430.6 257.2 M366.63 253.95 L421.28 222.4 M364.25 251.57 L395.8 196.92 M361 250.7 L361 187.6 M357.75 251.57 L326.2 196.92 M355.37 253.95 L300.72 222.4 M354.5 257.2 L291.4 257.2 M355.37 260.45 L300.72 292 M357.75 262.83 L326.2 317.48 M361 263.7 L361 326.8 M364.25 262.83 L395.8 317.48 M366.63 260.45 L421.28 292 " stroke="#888888" stroke-width="0.75" stroke-dasharray="2.8 2.3" fill="none"/><circle cx="361" cy="257.2" r="69.6" stroke="#262626" stroke-width="0.85" fill="none"/><path d="M291.4 257.2 h-2" stroke="#262626" stroke-width="0.7" fill="none"/><path d="M263.1 187.6 V254 M263.1 260.7 V326.8" stroke="#9a9a9a" stroke-width="1.5" fill="none"/><text transform="translate(260.9 200.3) scale(1 1.05)" text-anchor="end" font-size="9.7">2.8</text><text transform="translate(260.9 227.1) scale(1 1.05)" text-anchor="end" font-size="9.7">2.0</text><text transform="translate(260.9 254) scale(1 1.05)" text-anchor="end" font-size="9.7">1.2</text><text transform="translate(260.9 267.7) scale(1 1.05)" text-anchor="end" font-size="9.7">1.2</text><text transform="translate(260.9 294.7) scale(1 1.05)" text-anchor="end" font-size="9.7">2.0</text><text transform="translate(260.9 321.9) scale(1 1.05)" text-anchor="end" font-size="9.7">2.8</text><path d="M263.1 196.7 h-2.4 M263.1 223.5 h-2.4 M263.1 250.4 h-2.4 M263.1 264.1 h-2.4 M263.1 291.1 h-2.4 M263.1 318.3 h-2.4 M263.1 210.1 h-1.3 M263.1 236.95 h-1.3 M263.1 277.6 h-1.3 M263.1 304.7 h-1.3 " stroke="#555" stroke-width="0.8" fill="none"/><text transform="translate(361 186.6) scale(1 1.05)" text-anchor="middle" font-size="9.7">90</text><text transform="translate(361.3 335.8) scale(1 1.05)" text-anchor="middle" font-size="9.7">270</text><text transform="translate(290 260.8) scale(1 1.05)" text-anchor="end" font-size="9.7">180</text><text transform="translate(431.9 260.8) scale(1 1.05)" font-size="9.7">0</text><path d="M420.5 257.2 L420.48 256.16 L420.42 255.13 L420.31 254.09 L420.16 253.06 L419.98 252.04 L419.75 251.03 L419.48 250.02 L419.17 249.03 L418.82 248.04 L418.43 247.07 L418 246.12 L417.54 245.18 L417.04 244.26 L416.5 243.36 L415.93 242.48 L415.33 241.62 L414.69 240.78 L414.02 239.97 L413.32 239.18 L412.6 238.42 L411.84 237.68 L411.06 236.97 L410.25 236.29 L409.42 235.64 L408.57 235.02 L407.7 234.42 L406.81 233.86 L405.9 233.33 L404.97 232.83 L404.03 232.36 L403.08 231.92 L402.11 231.51 L401.14 231.13 L400.15 230.79 L399.16 230.48 L398.17 230.2 L397.17 229.95 L396.16 229.73 L395.16 229.54 L394.16 229.38 L393.16 229.25 L392.16 229.14 L391.17 229.07 L390.18 229.02 L389.2 229 L388.23 229.01 L387.26 229.03 L386.31 229.09 L385.37 229.16 L384.44 229.26 L383.53 229.38 L382.63 229.51 L381.75 229.67 L380.88 229.84 L380.03 230.03 L379.19 230.23 L378.38 230.44 L377.58 230.67 L376.8 230.91 L376.04 231.15 L375.3 231.41 L374.57 231.67 L373.87 231.94 L373.19 232.21 L372.53 232.48 L371.88 232.75 L371.26 233.03 L370.66 233.3 L370.07 233.57 L369.5 233.84 L368.95 234.1 L368.42 234.35 L367.91 234.6 L367.41 234.84 L366.93 235.07 L366.46 235.29 L366.01 235.5 L365.57 235.7 L365.14 235.89 L364.73 236.06 L364.32 236.22 L363.93 236.36 L363.54 236.48 L363.17 236.59 L362.79 236.69 L362.43 236.77 L362.07 236.83 L361.71 236.87 L361.35 236.89 L361 236.9 L360.65 236.89 L360.29 236.86 L359.93 236.82 L359.57 236.75 L359.2 236.67 L358.83 236.57 L358.45 236.46 L358.07 236.33 L357.67 236.18 L357.27 236.02 L356.85 235.85 L356.42 235.66 L355.98 235.46 L355.53 235.25 L355.06 235.02 L354.57 234.79 L354.07 234.55 L353.56 234.3 L353.02 234.04 L352.47 233.77 L351.9 233.5 L351.32 233.23 L350.71 232.95 L350.08 232.68 L349.44 232.4 L348.77 232.13 L348.09 231.85 L347.38 231.59 L346.66 231.32 L345.91 231.07 L345.15 230.82 L344.37 230.58 L343.56 230.35 L342.75 230.14 L341.91 229.93 L341.05 229.74 L340.18 229.57 L339.29 229.42 L338.39 229.28 L337.47 229.16 L336.54 229.06 L335.6 228.99 L334.64 228.94 L333.68 228.91 L332.7 228.9 L331.72 228.92 L330.73 228.97 L329.73 229.04 L328.73 229.15 L327.72 229.28 L326.72 229.44 L325.71 229.63 L324.71 229.85 L323.7 230.1 L322.7 230.38 L321.71 230.7 L320.72 231.04 L319.74 231.42 L318.78 231.83 L317.82 232.27 L316.88 232.74 L315.95 233.24 L315.03 233.78 L314.14 234.34 L313.26 234.94 L312.41 235.57 L311.58 236.22 L310.77 236.9 L309.98 237.62 L309.23 238.36 L308.5 239.12 L307.8 239.91 L307.13 240.73 L306.49 241.57 L305.88 242.43 L305.31 243.31 L304.77 244.22 L304.27 245.14 L303.8 246.08 L303.38 247.04 L302.99 248.01 L302.64 249 L302.33 250 L302.05 251 L301.82 252.02 L301.64 253.05 L301.49 254.08 L301.38 255.12 L301.32 256.16 L301.3 257.2 L301.32 258.24 L301.38 259.28 L301.49 260.32 L301.64 261.35 L301.82 262.38 L302.05 263.4 L302.33 264.4 L302.64 265.4 L302.99 266.39 L303.38 267.36 L303.8 268.32 L304.27 269.26 L304.77 270.18 L305.31 271.09 L305.88 271.97 L306.49 272.83 L307.13 273.67 L307.8 274.49 L308.5 275.28 L309.23 276.04 L309.98 276.78 L310.77 277.5 L311.58 278.18 L312.41 278.83 L313.26 279.46 L314.14 280.06 L315.03 280.62 L315.95 281.16 L316.88 281.66 L317.82 282.13 L318.78 282.57 L319.74 282.98 L320.72 283.36 L321.71 283.7 L322.7 284.02 L323.7 284.3 L324.71 284.55 L325.71 284.77 L326.72 284.96 L327.72 285.12 L328.73 285.25 L329.73 285.36 L330.73 285.43 L331.72 285.48 L332.7 285.5 L333.68 285.49 L334.64 285.46 L335.6 285.41 L336.54 285.34 L337.47 285.24 L338.39 285.12 L339.29 284.98 L340.18 284.83 L341.05 284.66 L341.91 284.47 L342.75 284.26 L343.56 284.05 L344.37 283.82 L345.15 283.58 L345.91 283.33 L346.66 283.08 L347.38 282.81 L348.09 282.55 L348.77 282.27 L349.44 282 L350.08 281.72 L350.71 281.45 L351.32 281.17 L351.9 280.9 L352.47 280.63 L353.02 280.36 L353.56 280.1 L354.07 279.85 L354.57 279.61 L355.06 279.38 L355.53 279.15 L355.98 278.94 L356.42 278.74 L356.85 278.55 L357.27 278.38 L357.67 278.22 L358.07 278.07 L358.45 277.94 L358.83 277.83 L359.2 277.73 L359.57 277.65 L359.93 277.58 L360.29 277.54 L360.65 277.51 L361 277.5 L361.35 277.51 L361.71 277.53 L362.07 277.57 L362.43 277.63 L362.79 277.71 L363.17 277.81 L363.54 277.92 L363.93 278.04 L364.32 278.18 L364.73 278.34 L365.14 278.51 L365.57 278.7 L366.01 278.9 L366.46 279.11 L366.93 279.33 L367.41 279.56 L367.91 279.8 L368.42 280.05 L368.95 280.3 L369.5 280.56 L370.07 280.83 L370.66 281.1 L371.26 281.37 L371.88 281.65 L372.53 281.92 L373.19 282.19 L373.87 282.46 L374.57 282.73 L375.3 282.99 L376.04 283.25 L376.8 283.49 L377.58 283.73 L378.38 283.96 L379.19 284.17 L380.03 284.37 L380.88 284.56 L381.75 284.73 L382.63 284.89 L383.53 285.02 L384.44 285.14 L385.37 285.24 L386.31 285.31 L387.26 285.37 L388.23 285.39 L389.2 285.4 L390.18 285.38 L391.17 285.33 L392.16 285.26 L393.16 285.15 L394.16 285.02 L395.16 284.86 L396.16 284.67 L397.17 284.45 L398.17 284.2 L399.16 283.92 L400.15 283.61 L401.14 283.27 L402.11 282.89 L403.08 282.48 L404.03 282.04 L404.97 281.57 L405.9 281.07 L406.81 280.54 L407.7 279.98 L408.57 279.38 L409.42 278.76 L410.25 278.11 L411.06 277.43 L411.84 276.72 L412.6 275.98 L413.32 275.22 L414.02 274.43 L414.69 273.62 L415.33 272.78 L415.93 271.92 L416.5 271.04 L417.04 270.14 L417.54 269.22 L418 268.28 L418.43 267.33 L418.82 266.36 L419.17 265.37 L419.48 264.38 L419.75 263.37 L419.98 262.36 L420.16 261.34 L420.31 260.31 L420.42 259.27 L420.48 258.24 L420.5 257.2 Z" stroke="#ff2a2a" stroke-width="0.9" fill="none"/><path d="M420.15 256.05 h2.5 v2.5 h-2.5 z M398.25 233.85 h2.5 v2.5 h-2.5 z M373.75 232.05 h2.5 v2.5 h-2.5 z M359.55 238.45 h2.5 v2.5 h-2.5 z M345.85 232.05 h2.5 v2.5 h-2.5 z M323.65 235.05 h2.5 v2.5 h-2.5 z M295.05 256.05 h2.5 v2.5 h-2.5 z M317.05 280.75 h2.5 v2.5 h-2.5 z M342.05 286.45 h2.5 v2.5 h-2.5 z M359.55 277.25 h2.5 v2.5 h-2.5 z M375.55 283.45 h2.5 v2.5 h-2.5 z M400.45 279.55 h2.5 v2.5 h-2.5 z " fill="#ff1010"/><path d="M417.3 202.5 h9.5" stroke="#ff1010" stroke-width="1" fill="none"/><rect x="420.8" y="201.2" width="2.6" height="2.6" fill="#ff1010"/><text transform="translate(428.8 205.7) scale(0.98 1.04)" font-size="11.3">σ</text><text x="435.2" y="203.5" font-size="8.6" stroke="#000" stroke-width="0.2">+</text><text x="435" y="207.8" class="sf" textLength="19.5" lengthAdjust="spacingAndGlyphs">pump</text></g>
<text transform="translate(242.2 257.9) rotate(-90) scale(1 1.05)" text-anchor="middle" font-size="9.95">PL Intensity ( × 10<tspan font-size="6.6" dy="-3.1">4</tspan><tspan dy="3.1" dx="-0.6"> counts)</tspan></text>
<g id="panel-f"><path d="M599.8 257.3 L662.6 257.3 M598.93 254.05 L653.32 222.65 M596.55 251.67 L627.95 197.28 M593.3 250.8 L593.3 188 M590.05 251.67 L558.65 197.28 M587.67 254.05 L533.28 222.65 M586.8 257.3 L524 257.3 M587.67 260.55 L533.28 291.95 M590.05 262.93 L558.65 317.32 M593.3 263.8 L593.3 326.6 M596.55 262.93 L627.95 317.32 M598.93 260.55 L653.32 291.95 " stroke="#888888" stroke-width="0.75" stroke-dasharray="2.8 2.3" fill="none"/><circle cx="593.3" cy="257.3" r="69.3" stroke="#262626" stroke-width="0.85" fill="none"/><path d="M524 257.3 h-2" stroke="#262626" stroke-width="0.7" fill="none"/><path d="M495.4 188 V254.1 M495.4 260.8 V326.6" stroke="#4a4a4a" stroke-width="0.8" fill="none"/><text transform="translate(492.6 194.1) scale(1 1.05)" text-anchor="end" font-size="9.7">2.8</text><text transform="translate(492.6 224.3) scale(1 1.05)" text-anchor="end" font-size="9.7">2.0</text><text transform="translate(492.6 254.1) scale(1 1.05)" text-anchor="end" font-size="9.7">1.2</text><text transform="translate(492.6 267.8) scale(1 1.05)" text-anchor="end" font-size="9.7">1.2</text><text transform="translate(492.6 298.6) scale(1 1.05)" text-anchor="end" font-size="9.7">2.0</text><text transform="translate(492.6 329) scale(1 1.05)" text-anchor="end" font-size="9.7">2.8</text><path d="M495.4 190.5 h-2.4 M495.4 220.7 h-2.4 M495.4 250.5 h-2.4 M495.4 264.2 h-2.4 M495.4 295 h-2.4 M495.4 325.4 h-2.4 M495.4 205.6 h-1.3 M495.4 235.6 h-1.3 M495.4 279.6 h-1.3 M495.4 310.2 h-1.3 " stroke="#555" stroke-width="0.8" fill="none"/><text transform="translate(593.3 187) scale(1 1.05)" text-anchor="middle" font-size="9.7">90</text><text transform="translate(593.6 335.6) scale(1 1.05)" text-anchor="middle" font-size="9.7">270</text><text transform="translate(521.7 260.9) scale(1 1.05)" text-anchor="end" font-size="9.7">180</text><text transform="translate(663.9 260.9) scale(1 1.05)" font-size="9.7">0</text><path d="M611.34 257.3 L611.31 256.99 L611.31 256.67 L611.34 256.35 L611.4 256.03 L611.49 255.71 L611.6 255.38 L611.74 255.04 L611.91 254.68 L612.1 254.32 L612.32 253.95 L612.56 253.56 L612.82 253.15 L613.1 252.73 L613.39 252.29 L613.7 251.83 L614.03 251.36 L614.37 250.86 L614.72 250.34 L615.08 249.8 L615.45 249.24 L615.82 248.65 L616.2 248.05 L616.57 247.42 L616.95 246.77 L617.32 246.1 L617.69 245.4 L618.05 244.69 L618.41 243.95 L618.75 243.19 L619.08 242.41 L619.4 241.62 L619.71 240.8 L619.99 239.97 L620.26 239.11 L620.51 238.25 L620.74 237.36 L620.95 236.47 L621.13 235.56 L621.29 234.64 L621.42 233.71 L621.52 232.76 L621.6 231.82 L621.65 230.86 L621.68 229.9 L621.67 228.93 L621.63 227.96 L621.57 226.99 L621.47 226.02 L621.34 225.04 L621.18 224.07 L620.99 223.11 L620.77 222.14 L620.52 221.18 L620.23 220.23 L619.92 219.29 L619.57 218.35 L619.19 217.43 L618.79 216.51 L618.35 215.61 L617.88 214.72 L617.39 213.84 L616.86 212.98 L616.31 212.14 L615.73 211.31 L615.12 210.5 L614.49 209.72 L613.82 208.95 L613.14 208.2 L612.43 207.47 L611.69 206.77 L610.93 206.09 L610.15 205.44 L609.35 204.81 L608.52 204.21 L607.68 203.64 L606.81 203.09 L605.93 202.58 L605.03 202.1 L604.12 201.64 L603.19 201.22 L602.24 200.83 L601.29 200.48 L600.32 200.16 L599.34 199.87 L598.35 199.63 L597.35 199.41 L596.34 199.24 L595.33 199.1 L594.32 199 L593.3 198.94 L592.28 198.91 L591.26 198.93 L590.24 198.99 L589.23 199.08 L588.22 199.22 L587.21 199.39 L586.22 199.61 L585.23 199.86 L584.25 200.16 L583.28 200.49 L582.33 200.87 L581.39 201.28 L580.47 201.73 L579.57 202.22 L578.68 202.74 L577.82 203.3 L576.97 203.9 L576.15 204.53 L575.36 205.2 L574.59 205.89 L573.85 206.62 L573.13 207.38 L572.44 208.16 L571.78 208.97 L571.16 209.81 L570.56 210.67 L569.99 211.56 L569.46 212.46 L568.96 213.39 L568.49 214.33 L568.06 215.29 L567.66 216.26 L567.29 217.25 L566.96 218.24 L566.66 219.25 L566.39 220.26 L566.16 221.28 L565.95 222.3 L565.79 223.32 L565.65 224.35 L565.54 225.37 L565.47 226.39 L565.42 227.41 L565.41 228.42 L565.42 229.42 L565.46 230.41 L565.52 231.4 L565.61 232.37 L565.72 233.33 L565.86 234.27 L566.02 235.21 L566.19 236.12 L566.39 237.02 L566.6 237.9 L566.83 238.77 L567.08 239.61 L567.33 240.44 L567.6 241.24 L567.88 242.03 L568.17 242.79 L568.47 243.54 L568.78 244.26 L569.09 244.96 L569.4 245.64 L569.72 246.3 L570.03 246.94 L570.35 247.56 L570.67 248.16 L570.98 248.73 L571.29 249.29 L571.6 249.83 L571.9 250.35 L572.19 250.85 L572.48 251.33 L572.75 251.79 L573.02 252.24 L573.27 252.68 L573.52 253.09 L573.75 253.5 L573.96 253.89 L574.17 254.27 L574.35 254.64 L574.53 255 L574.68 255.34 L574.82 255.68 L574.95 256.02 L575.05 256.34 L575.14 256.67 L575.21 256.98 L575.26 257.3 L575.3 257.61 L575.31 257.93 L575.31 258.24 L575.28 258.56 L575.24 258.88 L575.18 259.2 L575.1 259.53 L575 259.87 L574.89 260.22 L574.76 260.57 L574.61 260.93 L574.44 261.31 L574.26 261.7 L574.06 262.1 L573.85 262.51 L573.62 262.94 L573.38 263.39 L573.13 263.85 L572.87 264.34 L572.6 264.84 L572.32 265.36 L572.03 265.89 L571.73 266.45 L571.43 267.04 L571.13 267.64 L570.82 268.26 L570.51 268.91 L570.21 269.58 L569.9 270.27 L569.6 270.98 L569.3 271.72 L569.01 272.48 L568.73 273.25 L568.46 274.06 L568.2 274.88 L567.95 275.72 L567.71 276.58 L567.5 277.46 L567.3 278.36 L567.11 279.27 L566.95 280.21 L566.81 281.15 L566.69 282.11 L566.6 283.09 L566.53 284.07 L566.49 285.06 L566.48 286.07 L566.49 287.07 L566.53 288.09 L566.61 289.11 L566.72 290.13 L566.85 291.15 L567.02 292.17 L567.23 293.19 L567.46 294.2 L567.73 295.2 L568.04 296.2 L568.38 297.19 L568.75 298.16 L569.15 299.13 L569.59 300.07 L570.06 301.01 L570.57 301.92 L571.1 302.81 L571.67 303.69 L572.27 304.53 L572.9 305.36 L573.56 306.16 L574.25 306.94 L574.96 307.68 L575.7 308.4 L576.47 309.09 L577.27 309.75 L578.08 310.37 L578.92 310.97 L579.78 311.53 L580.66 312.05 L581.56 312.55 L582.47 313 L583.4 313.43 L584.35 313.81 L585.31 314.16 L586.28 314.48 L587.26 314.76 L588.25 315 L589.25 315.2 L590.26 315.37 L591.27 315.51 L592.28 315.6 L593.3 315.66 L594.32 315.69 L595.34 315.68 L596.36 315.63 L597.37 315.55 L598.39 315.43 L599.39 315.28 L600.4 315.09 L601.39 314.87 L602.38 314.62 L603.36 314.33 L604.32 314.01 L605.28 313.66 L606.22 313.27 L607.15 312.86 L608.07 312.41 L608.97 311.93 L609.85 311.43 L610.71 310.89 L611.56 310.32 L612.38 309.73 L613.19 309.11 L613.97 308.46 L614.73 307.78 L615.46 307.08 L616.18 306.36 L616.86 305.6 L617.52 304.83 L618.15 304.03 L618.75 303.21 L619.32 302.37 L619.87 301.51 L620.38 300.63 L620.86 299.73 L621.3 298.82 L621.72 297.89 L622.1 296.94 L622.45 295.98 L622.76 295.01 L623.04 294.03 L623.29 293.04 L623.5 292.04 L623.67 291.03 L623.81 290.02 L623.91 289 L623.98 287.98 L624.02 286.96 L624.02 285.94 L623.98 284.93 L623.92 283.92 L623.82 282.91 L623.69 281.91 L623.53 280.92 L623.34 279.94 L623.12 278.97 L622.87 278.01 L622.6 277.06 L622.31 276.14 L621.99 275.23 L621.65 274.33 L621.29 273.46 L620.91 272.61 L620.52 271.77 L620.12 270.96 L619.7 270.18 L619.27 269.41 L618.84 268.67 L618.4 267.95 L617.96 267.26 L617.51 266.6 L617.07 265.95 L616.63 265.33 L616.2 264.74 L615.77 264.17 L615.36 263.62 L614.95 263.1 L614.56 262.6 L614.18 262.12 L613.82 261.66 L613.48 261.22 L613.16 260.8 L612.86 260.4 L612.59 260.01 L612.33 259.64 L612.11 259.28 L611.91 258.93 L611.74 258.59 L611.59 258.26 L611.48 257.93 L611.39 257.62 L611.34 257.3 Z" stroke="#2f74ff" stroke-width="0.9" fill="none"/><path d="M610.15 256.05 h2.5 v2.5 h-2.5 z M619.25 239.55 h2.5 v2.5 h-2.5 z M617.95 210.75 h2.5 v2.5 h-2.5 z M591.65 196.15 h2.5 v2.5 h-2.5 z M568.35 215.55 h2.5 v2.5 h-2.5 z M561.85 238.85 h2.5 v2.5 h-2.5 z M574.05 256.05 h2.5 v2.5 h-2.5 z M567.55 270.25 h2.5 v2.5 h-2.5 z M570.25 293.05 h2.5 v2.5 h-2.5 z M591.65 310.85 h2.5 v2.5 h-2.5 z M617.45 300.65 h2.5 v2.5 h-2.5 z M620.85 272.75 h2.5 v2.5 h-2.5 z " fill="#1458f0"/><path d="M648 202.5 h9.5" stroke="#1458f0" stroke-width="1" fill="none"/><rect x="651.3" y="201" width="3" height="3" fill="#1458f0"/><text transform="translate(658.8 205.7) scale(0.98 1.04)" font-size="11.3">σ</text><text x="665.2" y="203.5" font-size="8.6" stroke="#000" stroke-width="0.2">−</text><text x="665" y="207.8" class="sf" textLength="19.5" lengthAdjust="spacingAndGlyphs">pump</text></g>
<text transform="translate(474.2 257.9) rotate(-90) scale(1 1.05)" text-anchor="middle" font-size="9.95">PL Intensity ( × 10<tspan font-size="6.6" dy="-3.1">4</tspan><tspan dy="3.1" dx="-0.6"> counts)</tspan></text>
</svg></body></html>
